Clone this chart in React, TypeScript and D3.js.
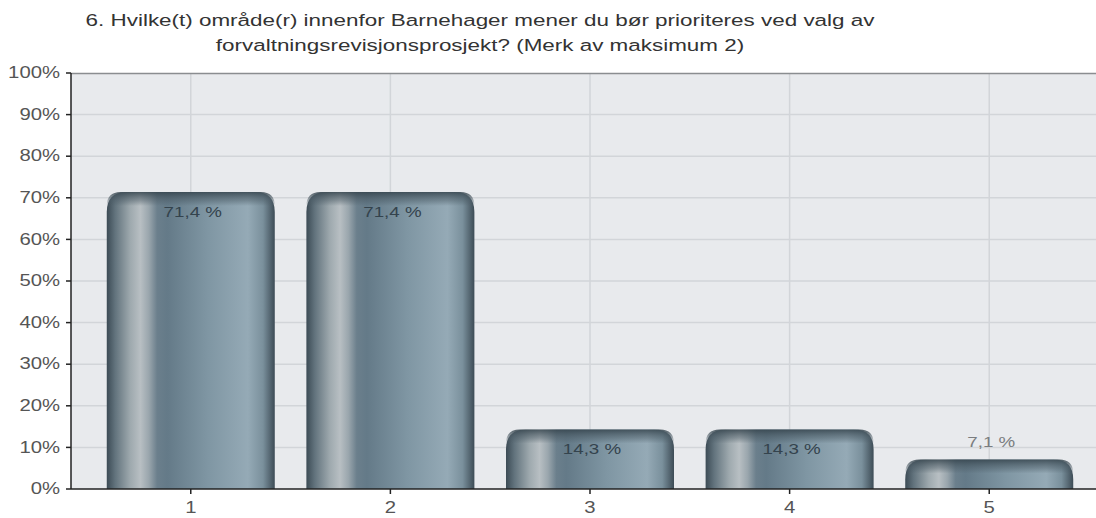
import React, { useEffect, useRef } from "react";
import * as d3 from "d3";

const categories = ["1", "2", "3", "4", "5"];
const values = [71.4, 71.4, 14.3, 14.3, 7.1];
const valueLabels = ["71,4 %", "71,4 %", "14,3 %", "14,3 %", "7,1 %"];
const yTicks = [0, 10, 20, 30, 40, 50, 60, 70, 80, 90, 100];
const titleLines = [
  "6. Hvilke(t) område(r) innenfor Barnehager mener du bør prioriteres ved valg av",
  "forvaltningsrevisjonsprosjekt? (Merk av maksimum 2)",
];

const W = 1096;
const H = 518;
const margin = { top: 73, left: 71, bottom: 29 };
const plotRight = 1109;
const font = "'Liberation Sans', Arial, sans-serif";

function barPath(x: number, y: number, w: number, h: number, r: number) {
  const rr = Math.min(r, h, w / 2);
  return `M${x},${y + h} L${x},${y + rr} Q${x},${y} ${x + rr},${y} L${x + w - rr},${y} Q${x + w},${y} ${x + w},${y + rr} L${x + w},${y + h} Z`;
}

export default function App() {
  const ref = useRef<SVGSVGElement>(null);

  useEffect(() => {
    const svg = d3.select(ref.current);
    svg.selectAll("*").remove();

    const y0 = H - margin.bottom;
    const x = d3
      .scalePoint<string>()
      .domain(categories)
      .range([margin.left, plotRight])
      .padding(0.6);
    const y = d3.scaleLinear().domain([0, 100]).range([y0, margin.top]);
    const barW = 168;

    const defs = svg.append("defs");
    const body = defs
      .append("linearGradient")
      .attr("id", "barBody")
      .attr("x1", 0)
      .attr("x2", 1)
      .attr("y1", 0)
      .attr("y2", 0);
    [
      [0, "#3c4b55"],
      [0.05, "#62737d"],
      [0.14, "#9ea9ae"],
      [0.2, "#b8bfc3"],
      [0.25, "#9aa6ad"],
      [0.3, "#6b7f8c"],
      [0.36, "#647a88"],
      [0.6, "#7f96a3"],
      [0.84, "#95aab6"],
      [0.93, "#7a909c"],
      [1, "#3d4c56"],
    ].forEach(([o, c]) =>
      body.append("stop").attr("offset", o as number).attr("stop-color", c as string)
    );
    const cap = defs
      .append("linearGradient")
      .attr("id", "barCap")
      .attr("x1", 0)
      .attr("x2", 0)
      .attr("y1", 0)
      .attr("y2", 1);
    cap.append("stop").attr("offset", 0).attr("stop-color", "#34434c").attr("stop-opacity", 0.85);
    cap.append("stop").attr("offset", 0.6).attr("stop-color", "#4a5a64").attr("stop-opacity", 0.45);
    cap.append("stop").attr("offset", 1).attr("stop-color", "#4a5a64").attr("stop-opacity", 0);

    // plot background
    svg
      .append("rect")
      .attr("x", margin.left)
      .attr("y", margin.top)
      .attr("width", plotRight - margin.left)
      .attr("height", y0 - margin.top)
      .attr("fill", "#e8eaed");

    // grid
    svg
      .append("g")
      .selectAll("line")
      .data(yTicks.slice(1, -1))
      .join("line")
      .attr("x1", margin.left)
      .attr("x2", plotRight)
      .attr("y1", d => y(d))
      .attr("y2", d => y(d))
      .attr("stroke", "#d2d5d9")
      .attr("stroke-width", 1.5);
    svg
      .append("g")
      .selectAll("line")
      .data(categories)
      .join("line")
      .attr("x1", d => x(d)!)
      .attr("x2", d => x(d)!)
      .attr("y1", margin.top)
      .attr("y2", y0)
      .attr("stroke", "#d2d5d9")
      .attr("stroke-width", 1.5);

    // top border
    svg
      .append("line")
      .attr("x1", margin.left)
      .attr("x2", plotRight)
      .attr("y1", margin.top + 0.5)
      .attr("y2", margin.top + 0.5)
      .attr("stroke", "#8a8d90")
      .attr("stroke-width", 1.5);

    // bars
    const bars = svg
      .append("g")
      .selectAll("g")
      .data(values)
      .join("g");
    bars
      .append("path")
      .attr("d", (d, i) => {
        const bx = x(categories[i])! - barW / 2;
        return barPath(bx, y(d), barW, y0 - y(d), 20);
      })
      .attr("fill", "url(#barBody)");
    bars
      .append("path")
      .attr("d", (d, i) => {
        const bx = x(categories[i])! - barW / 2;
        return barPath(bx, y(d), barW, Math.min(14, y0 - y(d)), 20);
      })
      .attr("fill", "url(#barCap)");

    // value labels
    bars
      .append("text")
      .attr("transform", (d, i) => {
        const inside = y0 - y(d) > 40;
        const ty = inside ? y(d) + 21 : y(d) - 16;
        return `translate(${x(categories[i])! + 2},${ty}) scale(1.25,1)`;
      })
      .attr("text-anchor", "middle")
      .attr("dominant-baseline", "middle")
      .attr("font-family", font)
      .attr("font-size", 15)
      .attr("fill", d => (y0 - y(d) > 40 ? "#34434d" : "#7a7d80"))
      .text((d, i) => valueLabels[i]);

    // y axis
    const yAxis = svg.append("g");
    yAxis
      .append("line")
      .attr("x1", margin.left)
      .attr("x2", margin.left)
      .attr("y1", margin.top)
      .attr("y2", y0)
      .attr("stroke", "#222")
      .attr("stroke-width", 1.5);
    const yt = yAxis.selectAll("g").data(yTicks).join("g");
    yt.append("line")
      .attr("x1", margin.left - 5)
      .attr("x2", margin.left)
      .attr("y1", d => y(d))
      .attr("y2", d => y(d))
      .attr("stroke", "#222")
      .attr("stroke-width", 1.5);
    yt.append("text")
      .attr("transform", d => `translate(${margin.left - 11},${y(d) + 1}) scale(1.27,1)`)
      .attr("text-anchor", "end")
      .attr("dominant-baseline", "middle")
      .attr("font-family", font)
      .attr("font-size", 16)
      .attr("fill", "#555")
      .text(d => `${d}%`);

    // x axis
    const xAxis = svg.append("g");
    xAxis
      .append("line")
      .attr("x1", margin.left)
      .attr("x2", plotRight)
      .attr("y1", y0)
      .attr("y2", y0)
      .attr("stroke", "#222")
      .attr("stroke-width", 1.5);
    const xt = xAxis.selectAll("g").data(categories).join("g");
    xt.append("line")
      .attr("x1", d => x(d)!)
      .attr("x2", d => x(d)!)
      .attr("y1", y0)
      .attr("y2", y0 + 5)
      .attr("stroke", "#222")
      .attr("stroke-width", 1.5);
    xt.append("text")
      .attr("transform", d => `translate(${x(d)},${y0 + 20}) scale(1.27,1)`)
      .attr("text-anchor", "middle")
      .attr("dominant-baseline", "middle")
      .attr("font-family", font)
      .attr("font-size", 16)
      .attr("fill", "#555")
      .text(d => d);

    // title
    svg
      .append("g")
      .selectAll("text")
      .data(titleLines)
      .join("text")
      .attr("transform", (d, i) => `translate(480,${22 + i * 25}) scale(1.32,1)`)
      .attr("text-anchor", "middle")
      .attr("dominant-baseline", "middle")
      .attr("font-family", font)
      .attr("font-size", 17)
      .attr("fill", "#333")
      .text(d => d);
  }, []);

  return (
    <svg
      ref={ref}
      width={W}
      height={H}
      style={{ position: "absolute", left: 0, top: 0, background: "#fff" }}
    />
  );
}
